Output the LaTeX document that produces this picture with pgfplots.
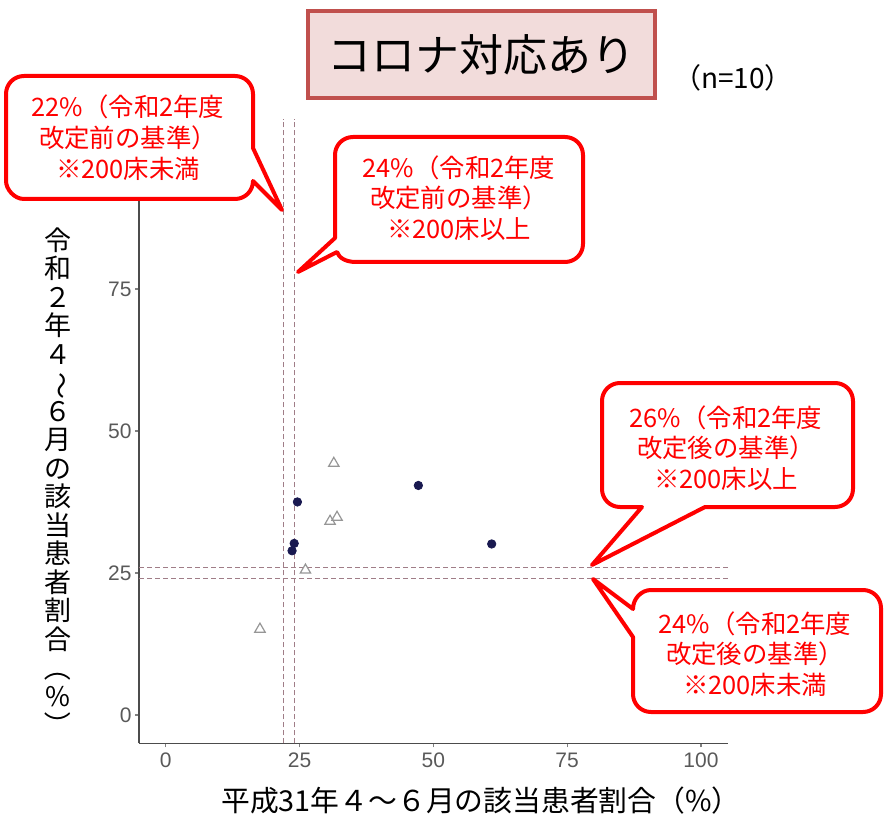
\documentclass[border=0pt]{standalone}
\usepackage{fontspec}
\usepackage{graphicx}
\usepackage{pgfplots}
\pgfplotsset{compat=1.18}
\setmainfont{Noto Sans CJK JP}
\newfontfamily\tickfont{Liberation Sans}
\definecolor{calloutred}{RGB}{255,0,0}
\definecolor{titlefill}{RGB}{242,220,219}
\definecolor{titleborder}{RGB}{192,80,77}
\definecolor{navy}{RGB}{25,25,80}
\definecolor{refline}{RGB}{160,125,135}
\definecolor{tri}{RGB}{150,150,150}
\tikzset{
  callout/.style={draw=calloutred, line width=2pt, fill=white, line join=round},
  callouttext/.style={font={\fontsize{12.7}{15.4}\selectfont}, text=calloutred, align=center, inner sep=0pt}
}
\begin{document}
\begin{tikzpicture}
\path[use as bounding box] (0,0) rectangle (442pt,410.5pt);
\begin{axis}[
  at={(69.5pt,38.85pt)}, anchor=south west,
  scale only axis, width=294.35pt, height=312.35pt,
  xmin=-5, xmax=105, ymin=-5, ymax=105,
  axis lines*=left,
  axis line style={black!70, line width=0.8pt},
  xtick={0,25,50,75,100}, ytick={0,25,50,75},
  tick align=outside, major tick length=2pt,
  tick style={black!50, line width=0.6pt},
  ticklabel style={font=\tickfont\fontsize{10.5}{12}\selectfont, text=black!65},
  xticklabel style={inner sep=2.5pt},
  yticklabel style={inner sep=1.5pt},
  /pgf/number format/assume math mode=true,
  clip=false,
]
\addplot[refline, line width=0.7pt, dash pattern=on 2.5pt off 1.5pt] coordinates {(22,-5) (22,105)};
\addplot[refline, line width=0.7pt, dash pattern=on 2.5pt off 1.5pt] coordinates {(24,-5) (24,105)};
\addplot[refline, line width=0.7pt, dash pattern=on 2.5pt off 1.5pt] coordinates {(-5,24) (105,24)};
\addplot[refline, line width=0.7pt, dash pattern=on 2.5pt off 1.5pt] coordinates {(-5,26) (105,26)};
% triangles (open)
\addplot[only marks, mark=triangle, mark size=3pt, tri, mark options={line width=0.6pt}] coordinates {
  (31.4,44.3) (30.7,34.1) (32.0,34.8) (26.1,25.5) (17.6,15.1)
};
% filled circles
\addplot[only marks, mark=*, mark size=2.1pt, navy] coordinates {
  (24.6,37.5) (47.2,40.4) (60.9,30.1) (24.0,30.2) (23.6,28.9)
};
\end{axis}
\begin{scope}[x=0.5pt, y=-0.5pt, yshift=410.5pt]
% title
\draw[titleborder, line width=2pt, fill=titlefill] (308,11) rectangle (655,98);
\node[font={\fontsize{22}{26}\selectfont}] at (481,55) {コロナ対応あり};
\node[font={\fontsize{14}{17}\selectfont}] at (733,78) {（n=10）};
% axis labels
\node[font={\fontsize{14.4}{17}\selectfont}] at (481,801) {平成31年４～６月の該当患者割合（\%）};
\node[font={\fontsize{13.5}{14.25}\selectfont\lineskiplimit=-100pt}, align=center, inner sep=0pt] at (58,483)
 {令\\和\\２\\年\\４\\\rotatebox[origin=c]{-90}{～}\\６\\月\\の\\該\\当\\患\\者\\割\\合\\\rotatebox[origin=c]{-90}{（}\\\%\\\rotatebox[origin=c]{-90}{）}};
% callout 1
\draw[callout] (130,76) -- (235,76) .. controls (245,76) and (253,84) .. (253,94) -- (253,148) -- (282,210) -- (253,181) .. controls (253,191) and (245,199) .. (235,199) -- (24,199) .. controls (14,199) and (6,189) .. (6,181) -- (6,94) .. controls (6,84) and (14,76) .. (24,76) -- cycle;
\node[callouttext] at (128,137.5) {22\%（令和2年度\\改定前の基準）\\※200床未満};
% callout 2
\draw[callout] (458,137) -- (565,137) .. controls (575,137) and (583,145) .. (583,155) -- (583,244) .. controls (583,254) and (575,262) .. (565,262) -- (356,262) .. controls (346,262) and (339,258) .. (337,252) -- (298,272) -- (335,238) -- (335,155) .. controls (335,145) and (343,137) .. (353,137) -- cycle;
\node[callouttext] at (459,198) {24\%（令和2年度\\改定前の基準）\\※200床以上};
% callout 3
\draw[callout] (727,383) -- (835,383) .. controls (845,383) and (853,391) .. (853,401) -- (853,489) .. controls (853,499) and (845,507) .. (835,507) -- (705,507) -- (592,565) -- (642,507) -- (620,507) .. controls (610,507) and (602,499) .. (602,489) -- (602,401) .. controls (602,391) and (610,383) .. (620,383) -- cycle;
\node[callouttext] at (726,448) {26\%（令和2年度\\改定後の基準）\\※200床以上};
% callout 4
\draw[callout] (757,590) -- (863,590) .. controls (873,590) and (881,598) .. (881,608) -- (881,694) .. controls (881,704) and (873,712) .. (863,712) -- (651,712) .. controls (641,712) and (633,704) .. (633,694) -- (633,637) -- (593,579) -- (633,609) .. controls (633,599) and (641,590) .. (651,590) -- cycle;
\node[callouttext] at (755,654) {24\%（令和2年度\\改定後の基準）\\※200床未満};
\end{scope}
\end{tikzpicture}
\end{document}
